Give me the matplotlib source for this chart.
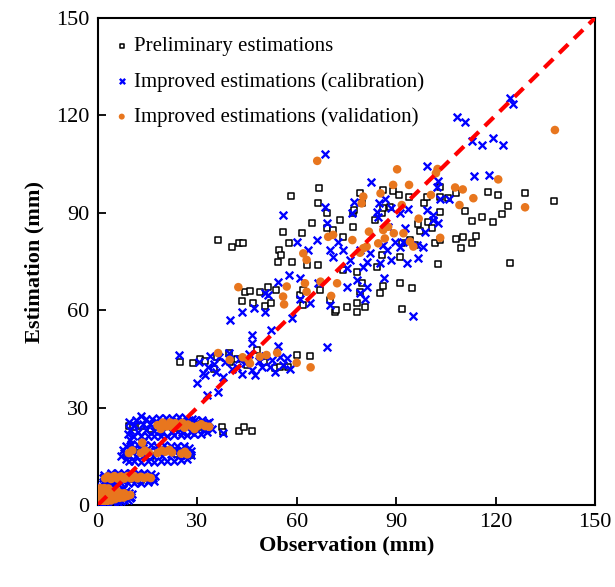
import matplotlib
matplotlib.use('Agg')
import matplotlib.pyplot as plt
import numpy as np

plt.rcParams['font.family'] = ['Liberation Serif', 'DejaVu Serif']

# preliminary estimations (observation, estimation)
prelim_pts = [
    (2, 3), (4, 2.5), (6, 3), (8, 2.8), (3, 7.5), (6, 7.8), (10, 8), (13, 7.6), (15, 8.2),
    (9, 15.5), (12, 16), (16, 15.2), (20, 16.5), (24, 15.8), (26.8, 16.4), (28, 15.3),
    (9.4, 24.3), (10.6, 24.1), (13, 24.3), (16, 23.5), (20, 24.5), (24, 23.8), (28, 24.6),
    (31, 23.9),
    (37.4, 24), (37.8, 22.5), (42.5, 22.8), (44, 24), (46.5, 22.8),
    (24.7, 44), (28.7, 43.8), (30.8, 44.9), (32.3, 44.3), (35, 42), (36, 45.5), (39.6, 46.9),
    (40, 44), (42, 45), (45, 43), (47.9, 47.7), (50, 44), (53.4, 42.1), (55, 42.5),
    (57.4, 42.6), (60, 46.2), (64, 45.9),
    (36.3, 81.6), (40.4, 79.6), (42.6, 80.8), (43.9, 80.8), (43.4, 62.9), (44.4, 65.7),
    (45.9, 66), (46.9, 62.1), (48.9, 65.7), (51.4, 67.2), (50.4, 61.3), (52.4, 62.1),
    (53.9, 66.2), (54.4, 74.9), (54.7, 78.5), (55.4, 77), (55.9, 84.2), (57.7, 80.6),
    (58.3, 95.2), (58.5, 74.9), (61, 64.7), (61.5, 83.9), (62, 61.6), (62, 66.2), (63, 73.9),
    (64.5, 86.8), (66.3, 93.1), (66.5, 73.9), (66.8, 97.5), (67, 66.2), (69, 89.8),
    (69.2, 85.2), (70, 63.1), (71.5, 59.3), (72, 60), (71, 84.7), (73, 87.8), (74, 82.6),
    (74, 72.4), (75.1, 61.1), (77.1, 89.8), (77.1, 85.7), (77.3, 90.9), (78.1, 62.1),
    (78.1, 59.3), (78.1, 71.9), (79.1, 96), (79.6, 92.9), (79.1, 65.7), (79.6, 68.3),
    (80.6, 61.1), (83.6, 87.8), (84.1, 73.4), (85.1, 65.2), (85.6, 77), (85.6, 89.8),
    (86.1, 97), (86.1, 91.4), (86.1, 67.4), (88.3, 91.9), (89, 96.8), (91, 95.5),
    (91.2, 76.5), (91.2, 68.3), (91.7, 80.6), (91.7, 60.3), (93.8, 94.8), (94.2, 81.6),
    (94.7, 66.7), (95.7, 80.1), (96.7, 86.5), (97.2, 84.5), (98.5, 93), (99.2, 94.8),
    (99.7, 87.3), (100.7, 85.2), (101.7, 80.6), (102.5, 74.1), (103.2, 90.3), (103.2, 97.8),
    (103.2, 95), (103.2, 81.6), (105.7, 94.5), (108, 96), (108, 81.8), (109.5, 79.1),
    (110.1, 82.4), (110.8, 90.6), (112.8, 87.6), (112.8, 80.8), (114.1, 82.8), (115.8, 88.6),
    (117.8, 96.5), (119.1, 87.3), (120.8, 95.6), (122, 89.7), (123.7, 92.2), (124.4, 74.4),
    (128.9, 96.2), (137.5, 93.7),
]

# improved estimations, calibration set
calib_pts = [
    (0.3, 0.5), (0.5, 1.5), (0.4, 3), (0.6, 4.5), (0.8, 6), (1.5, 0.4), (1.5, 2.5),
    (1.8, 5.5), (2.5, 0.6), (2.5, 3.5), (3, 6.2), (3.5, 1.5), (4, 5.5), (4.5, 0.8),
    (5, 3), (5.5, 5.2), (6, 1), (6.5, 4.6), (7, 1.2), (7.5, 4.8), (8, 1.5), (8.5, 4.3),
    (9, 1.6), (9.5, 3.8), (10, 2.5), (10.4, 3.5),
    (1, 1.8), (1.2, 3.8), (2.2, 5.8), (3.5, 3), (6, 1.8), (8, 2.5), (9.7, 2.3), (4.8, 5.8),
    (1.5, 7.2), (2, 9.2), (3, 6.8), (4, 9.8), (5, 6.8), (6, 10), (7, 6.8), (8, 9.9), (9, 6.9),
    (10, 10), (11, 6.8), (12, 9.9), (13, 6.9), (14, 9.8), (15, 7), (16, 9.6), (17, 7.5),
    (17.2, 8.8), (1.6, 8.3),
    (1.8, 8.5), (3.5, 7.6), (5.5, 9.3), (7.5, 7.5), (9.5, 9.4), (11.5, 7.5), (13.5, 9.4),
    (15.5, 7.6), (16.8, 8.4),
    (7, 15), (7.5, 17), (8.5, 14.2), (8.5, 18.2), (9.5, 13.6), (10, 18.7), (11, 13.4),
    (12, 18.6), (13, 13.3), (14, 18.5), (15, 13.4), (16, 18.4), (17, 13.3), (18, 18.3),
    (19, 13.5), (20, 18.4), (21, 13.4), (22, 18.2), (23, 13.5), (24, 18.3), (25, 13.8),
    (26, 18.1), (27, 14.2), (27.5, 17.5), (28, 15.5), (28.2, 16.6),
    (7.8, 16), (9, 15.2), (10.5, 17.2), (11.5, 15), (12.8, 17.4), (14, 15.4), (15.5, 16.6),
    (16.8, 15), (18, 16.8), (19.5, 15.2), (20.8, 17.2), (22, 15.6), (23.5, 17), (24.6, 15.2),
    (25.8, 16.6), (27, 15.3),
    (9.8, 20), (13.7, 19.5),
    (9, 22), (9.5, 25.5), (10.5, 21.3), (11.5, 26.2), (13.1, 27.5), (13, 21.2), (14.5, 26.5),
    (15, 21.1), (16.5, 26.6), (17, 21.2), (18.5, 26.8), (19, 21.3), (20.5, 26.8), (21, 21.4),
    (22.5, 26.9), (23, 21.5), (24.5, 27), (25, 21.6), (26.5, 26.8), (27, 21.7), (28.5, 26.6),
    (29, 21.8), (29.4, 26.2), (31, 22), (31.5, 26.3), (33, 22.5), (33.5, 25.5), (34.5, 23.5),
    (9.8, 23), (11, 24.6), (12.2, 22.6), (13.5, 25), (14.6, 23), (15.8, 24.8), (17, 22.8),
    (18, 25.5), (19.5, 22.5), (21, 25.6), (22.5, 22.4), (24, 26), (25.5, 22.5), (27, 25.8),
    (28, 22.6), (30, 25.5), (31.8, 23), (33, 25.2),
    (37.8, 22.1),
    (36.3, 34.9), (29.8, 37.7), (32.3, 40), (32.8, 33.9), (24.5, 46.2), (47.4, 40),
    (30.5, 44), (31.8, 40.6), (33.3, 42.6), (34, 46), (35, 43.5), (35.8, 41.1), (36.5, 45.5),
    (37.8, 39.5), (38.5, 44.2), (39.5, 46.8), (40.5, 42), (41.9, 42.6), (42.5, 45),
    (43.5, 40.5), (44.5, 43.8), (45.5, 46.5), (46.5, 41.5), (48.5, 44.5), (49.5, 42.5),
    (50.5, 46), (51.9, 42.6), (52.5, 44.8), (53.5, 41), (55, 45.5), (56, 43), (57, 45.2),
    (58, 41.8),
    (39.8, 57), (43.4, 59.5), (46.4, 49.8), (46.4, 52.4), (47, 60.6), (50.4, 59.5),
    (50.4, 65.2), (51.4, 64.7), (52.4, 54), (54.4, 49), (54.5, 68.8), (57.6, 70.8),
    (58.5, 57.5), (61, 63.6), (61, 69.8), (64, 62.1), (66.5, 68.3), (69, 48.8), (70, 61.6),
    (75.1, 67.2), (78.1, 69.3), (79.1, 65.2), (80.6, 63.6), (81.1, 67.2), (86.3, 70),
    (95.2, 58.3),
    (55.9, 89.3), (60, 81.1), (63.5, 78.5), (66, 81.6), (68.5, 91.9), (68.5, 108.1),
    (69.2, 86.8), (70, 78.5), (71, 76.5), (72.5, 81.1), (74, 78.5), (75.3, 72.9),
    (76.1, 75.5), (76.8, 89.8), (77.3, 93.2), (79.1, 78.5), (80.1, 73.4), (81.1, 74.9),
    (82.1, 77.5), (82.4, 99.6), (84.1, 90.3), (84.6, 88.8), (84.9, 92.9), (85.1, 74.4),
    (86.1, 80.1), (86.6, 94.4), (87.1, 78.5), (87.6, 85.7), (88.6, 91.4), (88.6, 75.5),
    (89.6, 81.1), (91.2, 79.6), (91.2, 89.8), (92.2, 81.1), (92.7, 85.2), (93.2, 74.4),
    (93.5, 91.2), (96.2, 80.1), (96.7, 76), (98.2, 79.6), (98.7, 84.2), (99.2, 90.9),
    (99.2, 104.4), (101.2, 89.3), (101.2, 87.8), (102.2, 98), (102.5, 99.9), (102.7, 86.8),
    (103.2, 94.4), (105.9, 94.4), (108.3, 119.6), (110.8, 118), (112.8, 112.2),
    (113.5, 101.3), (115.8, 110.9), (118, 101.8), (119.1, 112.9), (122.3, 110.9),
    (124.5, 125.3), (125.2, 123.5),
]

# improved estimations, validation set
valid_pts = [
    (0.6, 1.2), (0.6, 2.6), (0.6, 4), (0.8, 5.2), (1.6, 1), (1.6, 2.4), (1.8, 3.8),
    (2, 5.2), (2.8, 1.2), (2.8, 2.6), (3, 4), (3.2, 5.1), (4, 1.4), (4.2, 2.8), (4.4, 4.2),
    (5.2, 1.8), (5.4, 3.2), (5.8, 4.3), (6.6, 2.2), (6.8, 3.6), (7.8, 2.3), (8, 3.6),
    (9, 2.8), (9.8, 3.1),
    (2.2, 8.2), (3, 8.8), (4, 8), (5, 8.9), (6, 8.1), (7, 8.8), (8, 8.1), (9, 8.9),
    (10, 8.2), (11, 8.9), (12, 8.2), (13, 8.7), (14, 8.3), (15, 8.6), (16, 8.3),
    (9.4, 16), (10.4, 16.8), (13, 16), (14.2, 16.8), (15.4, 16.1), (18, 16), (19.2, 16.8),
    (20.4, 16.4), (21.6, 17), (22.4, 16.2), (25.2, 15.8), (26.3, 16.4), (27, 15.6),
    (13.4, 19.2),
    (18, 24.6), (19, 23.4), (19.6, 25.4), (20.8, 24.2), (21.8, 25.4), (22.6, 23.9),
    (23.4, 25.2), (24.4, 24.4), (25.5, 25.3), (26.2, 23.8), (27.2, 24.8), (28.4, 24.2),
    (29.2, 23.4), (30.2, 24.4), (31.2, 24.9), (32.4, 24.3), (33.6, 24.1),
    (36.3, 46.8), (39.8, 44.7), (43.7, 45.5), (45.4, 44.7), (45.9, 43.6), (48.9, 45.7),
    (50.9, 46.2), (54.1, 46.9), (60, 43.8), (64.2, 42.4),
    (42.4, 67.1), (55.9, 64.2), (56.2, 61.8), (57, 67.3), (62, 77.5), (62.5, 68.3),
    (63, 65.7), (63, 75.5), (66.2, 106), (67.2, 68.8), (69.5, 82.6), (70.4, 64.4), (71, 83.2),
    (72.2, 68.3), (76.8, 81.6), (79.1, 77.7), (79.6, 92.9), (80.1, 95), (80.1, 79.1),
    (81.1, 79.6), (81.8, 84.2), (84.6, 80.6), (85.3, 96), (86.1, 84.7), (86.6, 82.1),
    (87.6, 85.7), (89.1, 98.6), (89.3, 83.7), (90.3, 103.4), (91.7, 92.4), (92.2, 83.7),
    (94.2, 81.1), (93.9, 98.6), (95.2, 79.6), (96.8, 88.2), (100.5, 95.5), (102.5, 103.5),
    (102, 102.2), (103.3, 82.3), (107.8, 97.8), (109.1, 92.4), (110.1, 97.2), (113.3, 94.5),
    (120.8, 100.3), (128.9, 91.7), (137.9, 115.5),
]

ticks = [0, 30, 60, 90, 120, 150]

prelim = np.array(prelim_pts)
calib = np.array(calib_pts)
valid = np.array(valid_pts)

fig = plt.figure(figsize=(6.15, 5.87), dpi=100)
ax = fig.add_axes([0.159, 0.1397, 0.8085, 0.8296])

ax.plot([0, 150], [0, 150], color='#ff0000', lw=3, ls=(0, (3, 2)), zorder=5)

ax.scatter(prelim[:, 0], prelim[:, 1], s=16, marker='s', facecolors='white',
           edgecolors='black', linewidths=1.1, label='Preliminary estimations', zorder=2)
ax.scatter(calib[:, 0], calib[:, 1], s=30, marker='x', color='#0000ff',
           linewidths=1.7, label='Improved estimations (calibration)', zorder=3)
ax.scatter(valid[:, 0], valid[:, 1], s=38, marker='o', color='#e8761e',
           edgecolors='none', label='Improved estimations (validation)', zorder=4)

ax.set_xlim(0, 150)
ax.set_ylim(0, 150)
ax.set_xticks(ticks)
ax.set_yticks(ticks)
ax.tick_params(direction='in', length=6, width=1.3, labelsize=16, pad=6)
for sp in ax.spines.values():
    sp.set_linewidth(1.5)

ax.set_xlabel('Observation (mm)', fontsize=16, fontweight='bold', labelpad=2)
ax.set_ylabel('Estimation (mm)', fontsize=16, fontweight='bold', labelpad=8)

leg = ax.legend(loc='upper left', frameon=False, fontsize=15, handlelength=0.5,
                handletextpad=0.35, labelspacing=0.75, borderaxespad=0.5,
                markerscale=0.7, scatterpoints=1)

fig.savefig('out.png', dpi=100)
